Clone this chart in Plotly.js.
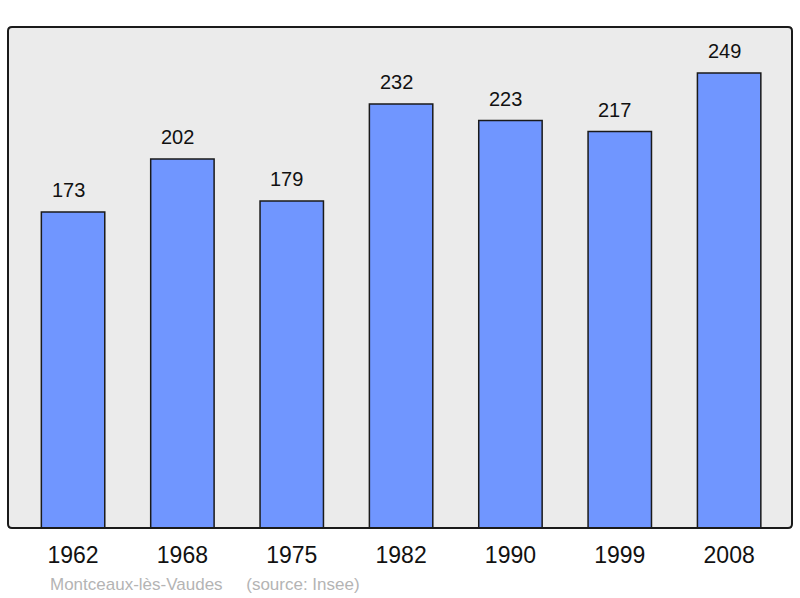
<!DOCTYPE html>
<html>
<head>
<meta charset="utf-8">
<script src="https://cdn.plot.ly/plotly-3.0.1.min.js"></script>
<style>
html,body{margin:0;padding:0;background:#fff;}
#chart{width:800px;height:598px;}
</style>
</head>
<body>
<div id="chart"></div>
<script>
var years = ["1962", "1968", "1975", "1982", "1990", "1999", "2008"];
var population = [173, 202, 179, 232, 223, 217, 249];
var footerText = "Montceaux-lès-Vaudes &nbsp;&nbsp;&nbsp;&nbsp;(source: Insee)";

var W = 800, H = 598;
var L = 8, R = 8, T = 27, B = 70;
var pw = W - L - R, ph = H - T - B;
var rx = 4 / pw, ry = 4 / ph;

var trace = {
  type: "bar",
  x: years.map(function(_, i){ return i; }),
  y: population,
  width: 0.58,
  marker: { color: "#7096ff", line: { color: "#1a1a1a", width: 1.5 } },
  hoverinfo: "none"
};

var annotations = population.map(function(v, i){
  return {
    x: i, y: v, xref: "x", yref: "y",
    text: String(v), showarrow: false,
    xanchor: "center", yanchor: "bottom",
    xshift: -5, yshift: 9,
    font: { family: "Liberation Sans, Arial, sans-serif", size: 20, color: "#111" }
  };
});
annotations.push({
  x: 40 / pw, y: -56 / ph, xref: "paper", yref: "paper",
  xanchor: "left", yanchor: "middle", showarrow: false,
  text: footerText,
  font: { family: "Liberation Sans, Arial, sans-serif", size: 17, color: "#b4b4b4" }
});

var borderPath = "M " + rx + ",1 L " + (1 - rx) + ",1 Q 1,1 1," + (1 - ry) +
  " L 1," + ry + " Q 1,0 " + (1 - rx) + ",0 L " + rx + ",0 Q 0,0 0," + ry +
  " L 0," + (1 - ry) + " Q 0,1 " + rx + ",1 Z";

var layout = {
  width: W, height: H,
  margin: { l: L, r: R, t: T, b: B, pad: 0 },
  paper_bgcolor: "#ffffff",
  plot_bgcolor: "#ebebeb",
  showlegend: false,
  bargap: 0,
  xaxis: {
    range: [-0.595, 6.575],
    tickmode: "array",
    tickvals: years.map(function(_, i){ return i; }),
    ticktext: years,
    ticks: "", showgrid: false, zeroline: false, showline: false,
    tickfont: { family: "Liberation Sans, Arial, sans-serif", size: 23, color: "#111" },
    ticklabelstandoff: 11,
    fixedrange: true
  },
  yaxis: {
    range: [0, 274.2],
    showticklabels: false, ticks: "", showgrid: false, zeroline: false, showline: false,
    fixedrange: true
  },
  shapes: [{
    type: "path", xref: "paper", yref: "paper", path: borderPath,
    line: { color: "#1a1a1a", width: 2 }, fillcolor: "rgba(0,0,0,0)", layer: "above"
  }],
  annotations: annotations
};

Plotly.newPlot("chart", [trace], layout, { displayModeBar: false, staticPlot: true });
</script>
</body>
</html>
